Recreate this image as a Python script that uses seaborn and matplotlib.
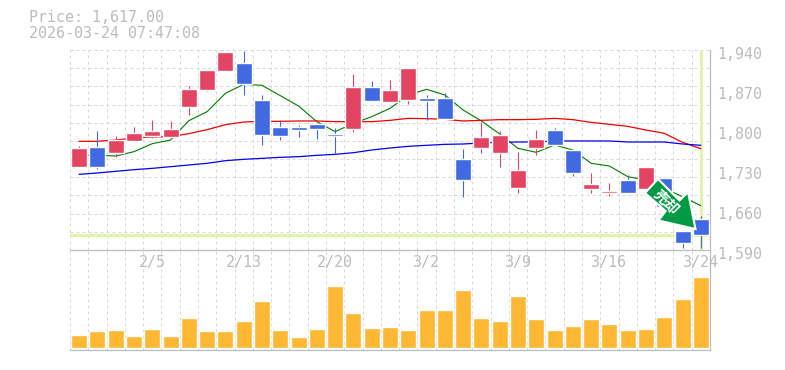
import numpy as np
import pandas as pd
import matplotlib
matplotlib.use('Agg')
import matplotlib.pyplot as plt
import seaborn as sns
from matplotlib.patches import Polygon
from matplotlib.transforms import ScaledTranslation, IdentityTransform


def p(z):
    # price
    return [round(1957.5 - v * 0.5833, 1) for v in z]


# top of body, bottom of body, high, low (all prices)
body_top = p([324, 321, 300, 279, 273, 267, 147, 90, 36, 69, 180, 261, 261, 252, 282, 141, 141, 150,
              84, 174, 174, 357, 291, 285, 390, 297, 270, 330, 432, 453, 420, 381, 414, 573, 537])
body_bot = p([380, 380, 338, 303, 288, 291, 201, 150, 93, 132, 285, 288, 270, 267, 288, 267, 183, 186,
              180, 183, 237, 420, 324, 339, 444, 324, 315, 399, 447, 459, 459, 447, 500, 609, 585])
highs = p([318, 273, 288, 261, 240, 243, 138, 90, 36, 33, 165, 240, 255, 252, 264, 102, 123, 120,
           84, 165, 159, 327, 246, 273, 336, 270, 264, 330, 399, 429, 405, 381, 414, 573, 528])
lows = p([380, 386, 350, 303, 293, 297, 225, 153, 93, 165, 315, 300, 291, 297, 342, 276, 183, 186,
          192, 240, 237, 471, 339, 381, 459, 345, 315, 408, 459, 468, 459, 447, 500, 624, 625])
up_day = [1, 0, 1, 1, 1, 1, 1, 1, 1, 0, 0, 0, 0, 0, 0, 1, 0, 1,
          1, 0, 0, 0, 1, 1, 1, 1, 0, 0, 1, 1, 0, 1, 0, 0, 0]

ma_short = p([346, 346, 348, 335, 311, 300, 242, 215, 160, 133, 136, 167, 198, 245, 275, 250, 230, 205,
              165, 148, 165, 210, 243, 282, 325, 337, 315, 330, 370, 378, 410, 420, 445, 470, 497])
ma_mid = p([304, 304, 300, 294, 291, 290, 281, 269, 254, 246, 244, 244, 243, 243, 245, 245, 245, 241,
            235, 236, 238, 243, 241, 239, 239, 238, 235, 239, 247, 253, 259, 270, 280, 307, 326])
ma_long = p([403, 399, 394, 389, 385, 380, 375, 370, 362, 358, 355, 352, 350, 346, 343, 338, 330, 324,
             319, 316, 313, 312, 309, 307, 306, 306, 303, 303, 303, 303, 306, 306, 306, 312, 316])

volume = [39, 51, 54, 36, 57, 36, 90, 51, 51, 81, 141, 54, 33, 57, 186, 105, 60, 63,
          54, 114, 114, 174, 90, 81, 156, 87, 54, 66, 87, 72, 54, 57, 93, 147, 213]

price_ticks = [1940, 1870, 1800, 1730, 1660, 1590]
date_pos = [4, 9, 14, 19, 24, 29, 34]
date_labels = ['2/5', '2/13', '2/20', '3/2', '3/9', '3/16', '3/24']
last_price = 1617
n = len(volume)

sns.set_style('white')
plt.rcParams['font.family'] = ['DejaVu Sans Mono', 'Noto Sans CJK JP']

W, H = 785, 370
fig = plt.figure(figsize=[W / 100, H / 100], dpi=100)
ax = fig.add_axes([70 / W, 1 - 250 / H, 640 / W, 200 / H])
ax_vol = fig.add_axes([70 / W, 1 - 350 / H, 640 / W, 100 / H])

grid_c = '#d8d8d8'
axis_c = '#bdbdbd'
text_c = '#bcbcbc'
dash = (0, (3, 3))

# volume
df_vol = pd.DataFrame({'i': range(n), 'volume': volume})
sns.barplot(data=df_vol, x='i', y='volume', ax=ax_vol, color='#ffb833', saturation=1, width=0.875, zorder=3)
ax_vol.set_xlim(-0.5, n - 0.5)
ax_vol.set_ylim(-6, 294)
ax_vol.set_xlabel('')
ax_vol.set_ylabel('')
ax_vol.set_yticks([])
ax_vol.set_xticks(date_pos)
ax_vol.set_xticklabels(date_labels)
ax_vol.tick_params(axis='x', length=0, labelbottom=True, labelsize=10.8, labelcolor=text_c, pad=0)
for lab in ax_vol.get_xticklabels():
    lab.set_verticalalignment('center')
    lab.set_transform(ax_vol.get_xaxis_transform() + ScaledTranslation(0, 88 / 100, fig.dpi_scale_trans))

# price
df = pd.DataFrame({'i': range(n), 'short': ma_short, 'mid': ma_mid, 'long': ma_long})
ax.axhline(last_price, color='#e4f3ab', lw=2.2, zorder=1)
ax.axvline(n - 1, color='#e4f3ab', lw=2.2, zorder=1)
sns.lineplot(data=df, x='i', y='short', ax=ax, color='#007a00', lw=0.8, zorder=2)
sns.lineplot(data=df, x='i', y='mid', ax=ax, color='#f00000', lw=0.9, zorder=2)
sns.lineplot(data=df, x='i', y='long', ax=ax, color='#0000f0', lw=0.9, zorder=2)

colors = ['#e24462' if u else '#4169e1' for u in up_day]
x = np.arange(n)
ax.vlines(x, lows, highs, colors=colors, lw=0.8, zorder=3)
ax.bar(x, np.array(body_top) - np.array(body_bot), bottom=body_bot, width=0.875, color=colors, zorder=4)

ax.set_xlim(-0.5, n - 0.5)
ax.set_ylim(1590, 1940)
ax.set_xlabel('')
ax.set_ylabel('')
ax.set_xticks([])
ax.set_yticks(price_ticks)
ax.set_yticklabels([f'{v:,}' for v in price_ticks])
ax.yaxis.tick_right()
ax.tick_params(axis='y', length=0, labelsize=10.8, labelcolor=text_c, pad=7)
for lab in ax.get_yticklabels():
    lab.set_transform(lab.get_transform() + ScaledTranslation(-3 / 100, -3 / 100, fig.dpi_scale_trans))

# dashed grid, one cell per candle, 11 rows in the price panel
for a in (ax, ax_vol):
    a.patch.set_alpha(0)
    for s in a.spines.values():
        s.set_visible(False)
    a.spines['right'].set_visible(True)
    a.spines['bottom'].set_visible(True)
    a.spines['right'].set_color(axis_c)
    a.spines['bottom'].set_color(axis_c)
    a.spines['right'].set_linewidth(0.9)
    a.spines['bottom'].set_linewidth(0.9)
    a.vlines(np.arange(n) - 0.5, 0, 1, transform=a.get_xaxis_transform(), colors=grid_c, lw=0.72, linestyles=dash, zorder=0)
ax.hlines(np.linspace(1590, 1940, 12)[1:], 0, 1, transform=ax.get_yaxis_transform(), colors=grid_c, lw=0.72, linestyles=dash, zorder=0)

fig.text(29 / W, 1 - 18 / H, 'Price: 1,617.00', color=text_c, fontsize=10.8, va='center', ha='left')
fig.text(29 / W, 1 - 33 / H, '2026-03-24 07:47:08', color=text_c, fontsize=10.8, va='center', ha='left')

# sell signal arrow, placed on the canvas in pixels
arrow_px = [(658, 179), (645, 193), (665.7, 211), (658.5, 220.5), (695.5, 229), (688, 192), (679.5, 200.5)]
arrow = Polygon([(a, H - b) for a, b in arrow_px], closed=True, transform=IdentityTransform(),
                facecolor='#009944', edgecolor='white', lw=1.5, zorder=10)
fig.add_artist(arrow)
fig.text(666.5 / W, 1 - 202 / H, '売却', color='white', fontsize=10.5, fontweight='bold', rotation=-45,
         ha='center', va='center', rotation_mode='anchor', zorder=11, family=['Noto Sans CJK JP', 'DejaVu Sans'])

fig.savefig('out.png', dpi=100)
